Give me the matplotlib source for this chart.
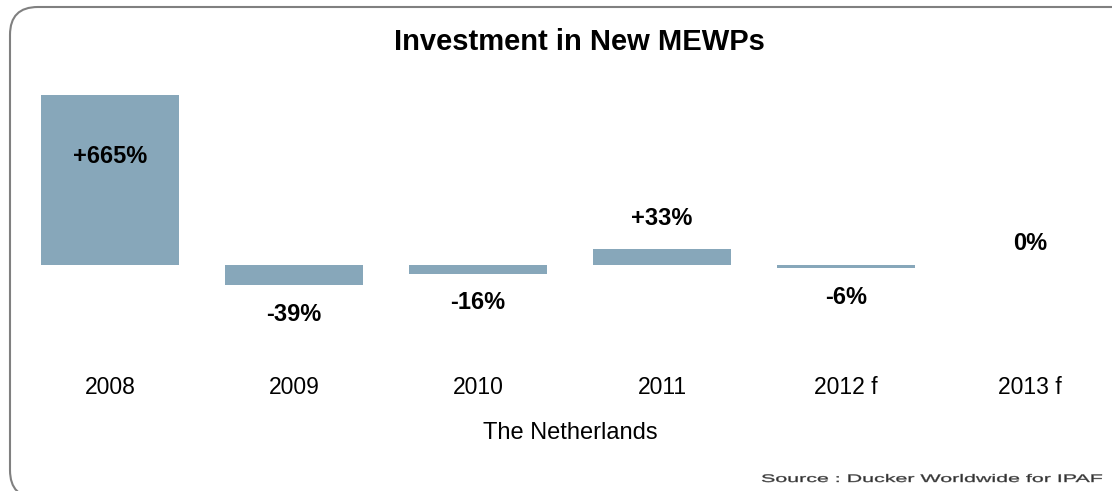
import matplotlib.pyplot as plt
from matplotlib.patches import FancyBboxPatch, PathPatch
from matplotlib.textpath import TextPath
from matplotlib.font_manager import FontProperties
from matplotlib.transforms import Affine2D, blended_transform_factory

plt.rcParams['font.family'] = ['Liberation Sans', 'DejaVu Sans']

# Data
years = ['2008', '2009', '2010', '2011', '2012 f', '2013 f']
change = [665, -39, -16, 33, -6, 0]
labels = ['+665%', '-39%', '-16%', '+33%', '-6%', '0%']

W, H = 1112, 491
fig = plt.figure(figsize=(W / 100, H / 100), dpi=100)

# axes: pixel box x 0..1112, y 95..345 (from top)
ax = fig.add_axes([0, 1 - 345 / H, 1, 250 / H])
ax.bar(range(len(years)), change, width=0.75, color='#87a7ba')
ax.set_xlim(-110 / 184, (W - 110) / 184)
ax.set_ylim(-156, 334)
for s in ax.spines.values():
    s.set_visible(False)
ax.set_yticks([])
ax.set_xticks(range(len(years)))
ax.set_xticklabels(years, fontsize=16.5)
ax.tick_params(axis='x', length=0, pad=22)
ax.patch.set_alpha(0)

top = ax.get_ylim()[1]
for i, (v, lab) in enumerate(zip(change, labels)):
    if v > top:
        # clipped bar: label sits inside
        ax.text(i, 0.755, lab, transform=blended_transform_factory(ax.transData, ax.transAxes),
                ha='center', va='center', fontsize=17, fontweight='bold')
    elif v > 0:
        ax.annotate(lab, (i, v), xytext=(0, 22), textcoords='offset points',
                    ha='center', va='center', fontsize=17, fontweight='bold')
    elif v == 0:
        ax.annotate(lab, (i, v), xytext=(0, 16), textcoords='offset points',
                    ha='center', va='center', fontsize=17, fontweight='bold')
    else:
        ax.annotate(lab, (i, v), xytext=(0, -21), textcoords='offset points',
                    ha='center', va='center', fontsize=17, fontweight='bold')

fig.text(579 / W, 1 - 42 / H, 'Investment in New MEWPs', ha='center', va='center',
         fontsize=21, fontweight='bold')
fig.text(570 / W, 1 - 433 / H, 'The Netherlands', ha='center', va='center', fontsize=17)

# rounded frame
frame = FancyBboxPatch((10 / W, -7 / H), 1.2, (H - 7 + 7) / H,
                       boxstyle='round,pad=0,rounding_size=0.025',
                       transform=fig.transFigure, fill=False, edgecolor='#808080',
                       linewidth=1.5, mutation_aspect=W / H)
fig.patches.append(frame)

# stretched source note
src = 'Source : Ducker Worldwide for IPAF'
tp = TextPath((0, 0), src, size=10, prop=FontProperties(family='Liberation Sans'))
ext = tp.get_extents()
sx = (340 / W) / ext.width
sy = (11 / H) / 10
tr = Affine2D().translate(-ext.x0, 0).scale(sx, sy).translate((W - 10 - 340) / W, 1 - 482 / H)
fig.patches.append(PathPatch(tp, transform=tr + fig.transFigure, facecolor='#333333',
                             edgecolor='#555555', linewidth=0.3))

fig.savefig('out.png', dpi=100)
